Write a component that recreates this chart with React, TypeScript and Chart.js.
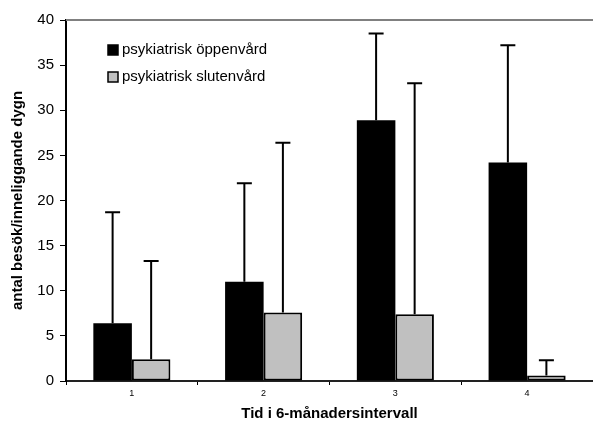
import React, { useEffect, useRef } from "react";
import { Chart, registerables } from "chart.js";

Chart.register(...registerables);

const categories = ["1", "2", "3", "4"];
const seriesNames = ["psykiatrisk öppenvård", "psykiatrisk slutenvård"];
const oppenvard = [6.4, 11.0, 28.9, 24.2];
const oppenvardErrTop = [18.7, 21.9, 38.5, 37.2];
const slutenvard = [2.4, 7.6, 7.4, 0.6];
const slutenvardErrTop = [13.3, 26.4, 33.0, 2.3];
const yTicks = [0, 5, 10, 15, 20, 25, 30, 35, 40];

const FONT = "'Liberation Sans', Arial, sans-serif";

const errorBarPlugin = {
  id: "errorBars",
  afterDatasetsDraw(chart: any) {
    const ctx = chart.ctx;
    const yScale = chart.scales.y;
    const errs = [oppenvardErrTop, slutenvardErrTop];
    ctx.save();
    ctx.strokeStyle = "#000";
    ctx.lineWidth = 2;
    chart.data.datasets.forEach((_ds: any, di: number) => {
      const meta = chart.getDatasetMeta(di);
      meta.data.forEach((bar: any, i: number) => {
        const yTop = yScale.getPixelForValue(errs[di][i]);
        ctx.beginPath();
        ctx.moveTo(bar.x, bar.y);
        ctx.lineTo(bar.x, yTop);
        ctx.moveTo(bar.x - 7.5, yTop);
        ctx.lineTo(bar.x + 7.5, yTop);
        ctx.stroke();
      });
    });
    ctx.restore();
  },
};

const framePlugin = {
  id: "frame",
  beforeDatasetsDraw(chart: any) {
    const { ctx, chartArea } = chart;
    ctx.save();
    ctx.strokeStyle = "#808080";
    ctx.lineWidth = 2;
    ctx.beginPath();
    ctx.moveTo(chartArea.left, chartArea.top);
    ctx.lineTo(chart.width, chartArea.top);
    ctx.stroke();
    ctx.restore();
  },
  afterDraw(chart: any) {
    const { ctx, chartArea } = chart;
    const colors = ["#000000", "#c0c0c0"];
    ctx.save();
    ctx.font = `15px ${FONT}`;
    ctx.textBaseline = "middle";
    seriesNames.forEach((name, i) => {
      const x = chartArea.left + 42;
      const y = chartArea.top + 30 + i * 27;
      ctx.fillStyle = colors[i];
      ctx.fillRect(x, y - 5, 10, 10);
      ctx.strokeStyle = "#000";
      ctx.lineWidth = 1.5;
      ctx.strokeRect(x, y - 5, 10, 10);
      ctx.fillStyle = "#000";
      ctx.fillText(name, x + 14, y);
    });
    ctx.restore();
  },
};

export default function App() {
  const ref = useRef<HTMLCanvasElement>(null);
  useEffect(() => {
    document.body.style.margin = "0";
    const chart = new Chart(ref.current!, {
      type: "bar",
      data: {
        labels: categories,
        datasets: [
          {
            label: seriesNames[0],
            data: oppenvard,
            backgroundColor: "#000000",
            borderColor: "#000000",
            borderWidth: 0,
            inflateAmount: 0,
          },
          {
            label: seriesNames[1],
            data: slutenvard,
            backgroundColor: "#c0c0c0",
            borderColor: "#000000",
            borderWidth: 2,
            borderSkipped: false,
            inflateAmount: 0,
          },
        ],
      },
      options: {
        animation: false,
        responsive: false,
        maintainAspectRatio: false,
        layout: { padding: { top: 20, right: 0, left: 0, bottom: 0 } },
        datasets: { bar: { categoryPercentage: 0.585, barPercentage: 1.0 } },
        plugins: {
          legend: { display: false },
          tooltip: { enabled: false },
        },
        scales: {
          x: {
            border: { display: true, color: "#222", width: 2 },
            grid: {
              display: true,
              offset: true,
              drawOnChartArea: false,
              drawTicks: true,
              tickLength: 4,
              color: "#000",
              lineWidth: 1,
            },
            ticks: { font: { family: FONT, size: 9 }, color: "#000", padding: 3 },
            title: {
              display: true,
              text: "Tid i 6-månadersintervall",
              font: { family: FONT, size: 15, weight: "bold" },
              color: "#000",
              padding: { top: 3, bottom: 0 },
            },
            afterFit(scale: any) {
              scale.height = 42;
            },
          },
          y: {
            min: 0,
            max: 40,
            afterBuildTicks(scale: any) {
              scale.ticks = yTicks.map((v) => ({ value: v }));
            },
            border: { display: true, color: "#000", width: 2 },
            grid: {
              display: true,
              drawOnChartArea: false,
              drawTicks: true,
              tickLength: 6,
              color: "#000",
            },
            ticks: { font: { family: FONT, size: 15 }, color: "#000", padding: 6 },
            title: {
              display: true,
              text: "antal besök/inneliggande dygn",
              font: { family: FONT, size: 15, weight: "bold" },
              color: "#000",
              padding: { top: 9, bottom: 0 },
            },
            afterFit(scale: any) {
              scale.width = 66;
            },
          },
        },
      },
      plugins: [errorBarPlugin, framePlugin],
    });
    return () => chart.destroy();
  }, []);
  return <canvas ref={ref} width={593} height={423} style={{ display: "block" }} />;
}
